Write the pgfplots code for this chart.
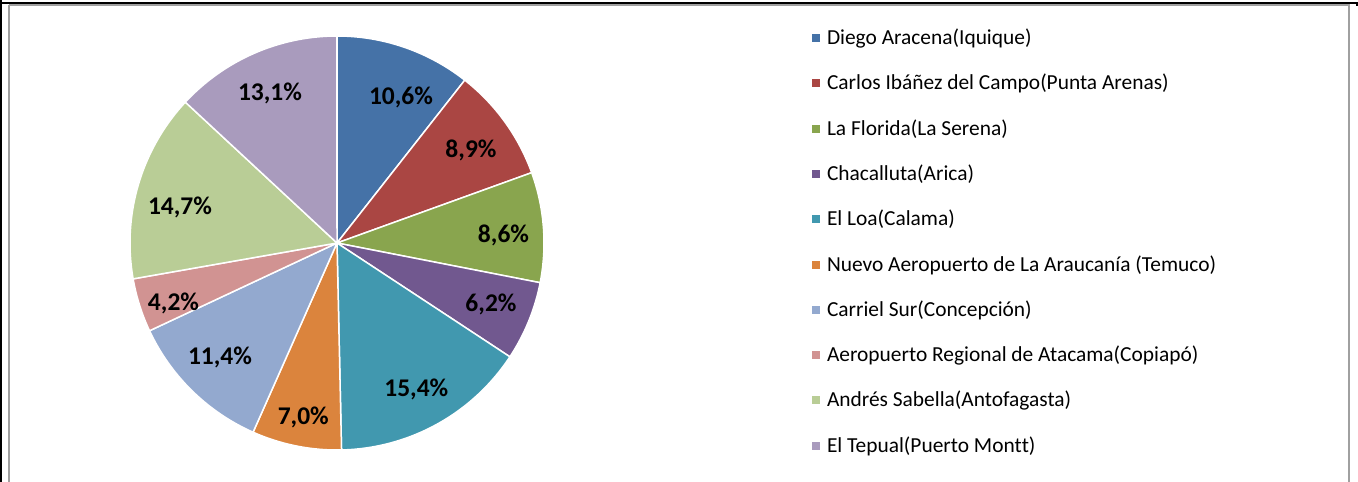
\documentclass[border=0pt]{standalone}
\usepackage{pgfplots}
\pgfplotsset{compat=1.18}
\usepackage{fontspec}
\setmainfont{Carlito}

\definecolor{c1}{HTML}{4572A7}
\definecolor{c2}{HTML}{AA4643}
\definecolor{c3}{HTML}{89A54E}
\definecolor{c4}{HTML}{71588F}
\definecolor{c5}{HTML}{4198AF}
\definecolor{c6}{HTML}{DB843D}
\definecolor{c7}{HTML}{93A9CF}
\definecolor{c8}{HTML}{D19392}
\definecolor{c9}{HTML}{B9CD96}
\definecolor{c10}{HTML}{A99BBD}
\definecolor{framegray}{HTML}{A0A0A0}

% pie geometry (pixel units): centre and radius
\def\cx{337}
\def\cy{243}
\def\rr{207}
\def\total{100.1}
\def\cum{0}
% #1 colour, #2 percentage value, #3 legend text
\newcommand\slice[3]{%
  \pgfmathsetmacro\sA{\cum/\total*360}%
  \pgfmathsetmacro\newcum{\cum+#2}%
  \pgfmathsetmacro\sB{\newcum/\total*360}%
  \xdef\cum{\newcum}%
  \edef\doslice{\noexpand\addplot[fill=#1, draw=white, line width=1.5bp, domain=\sA:\sB, samples=90]}%
  \doslice ({\cx+\rr*sin(x)}, {\cy-\rr*cos(x)}) -- (axis cs:\cx,\cy) -- cycle;
  \addlegendentry{#3}%
}

\begin{document}
\begin{tikzpicture}
\path[use as bounding box] (0,0) rectangle (1358bp,482bp);
\begin{axis}[
  at={(0,0)}, anchor=south west,
  width=1358bp, height=482bp, scale only axis,
  xmin=0, xmax=1358, ymin=0, ymax=482, y dir=reverse,
  hide axis, clip=false,
  legend cell align=left,
  legend image code/.code={\fill[#1, draw=none] (0bp,-4bp) rectangle (8bp,4bp);},
  legend style={draw=none, fill=none, inner sep=0pt, outer sep=0pt,
    at={(axis cs:812,31.5)}, anchor=north west,
    row sep=32.3bp, column sep=7bp,
    font=\fontsize{21.4bp}{26bp}\selectfont,
    nodes={inner sep=0pt, text height=13bp, text depth=0bp}},
]
\slice{c1}{10.6}{Diego Aracena(Iquique)}
\slice{c2}{8.9}{Carlos Ibáñez del Campo(Punta Arenas)}
\slice{c3}{8.6}{La Florida(La Serena)}
\slice{c4}{6.2}{Chacalluta(Arica)}
\slice{c5}{15.4}{El Loa(Calama)}
\slice{c6}{7.0}{Nuevo Aeropuerto de La Araucanía (Temuco)}
\slice{c7}{11.4}{Carriel Sur(Concepción)}
\slice{c8}{4.2}{Aeropuerto Regional de Atacama(Copiapó)}
\slice{c9}{14.7}{Andrés Sabella(Antofagasta)}
\slice{c10}{13.1}{El Tepual(Puerto Mont\kern0pt t)}

\begin{scope}[every node/.style={anchor=base, inner sep=0pt, font=\bfseries\fontsize{25.5bp}{30bp}\selectfont}]
\node at (axis cs:401,104) {10,6\%};
\node at (axis cs:471,157) {8,9\%};
\node at (axis cs:503.5,242) {8,6\%};
\node at (axis cs:491,311.5) {6,2\%};
\node at (axis cs:416.3,396) {15,4\%};
\node at (axis cs:303.3,424) {7,0\%};
\node at (axis cs:220,364) {11,4\%};
\node at (axis cs:173.5,310) {4,2\%};
\node at (axis cs:180,214) {14,7\%};
\node at (axis cs:270,100.5) {13,1\%};
\end{scope}

% outer frame
\draw[framegray, line width=2bp] (axis cs:9,5.5) -- (axis cs:1348.5,5.5) -- (axis cs:1348.5,482);
\draw[framegray, line width=2bp] (axis cs:9,5.5) -- (axis cs:9,482);
\draw[black, line width=2bp] (axis cs:0,3.5) -- (axis cs:1358,3.5);
\draw[black, line width=2bp] (axis cs:1,0) -- (axis cs:1,482);
\draw[black, line width=2bp] (axis cs:1357,3) -- (axis cs:1357,6);
\node[anchor=base, inner sep=0pt, font=\fontsize{19.7bp}{24bp}\selectfont] at (axis cs:711,-3) {(1)};
\end{axis}
\end{tikzpicture}
\end{document}
